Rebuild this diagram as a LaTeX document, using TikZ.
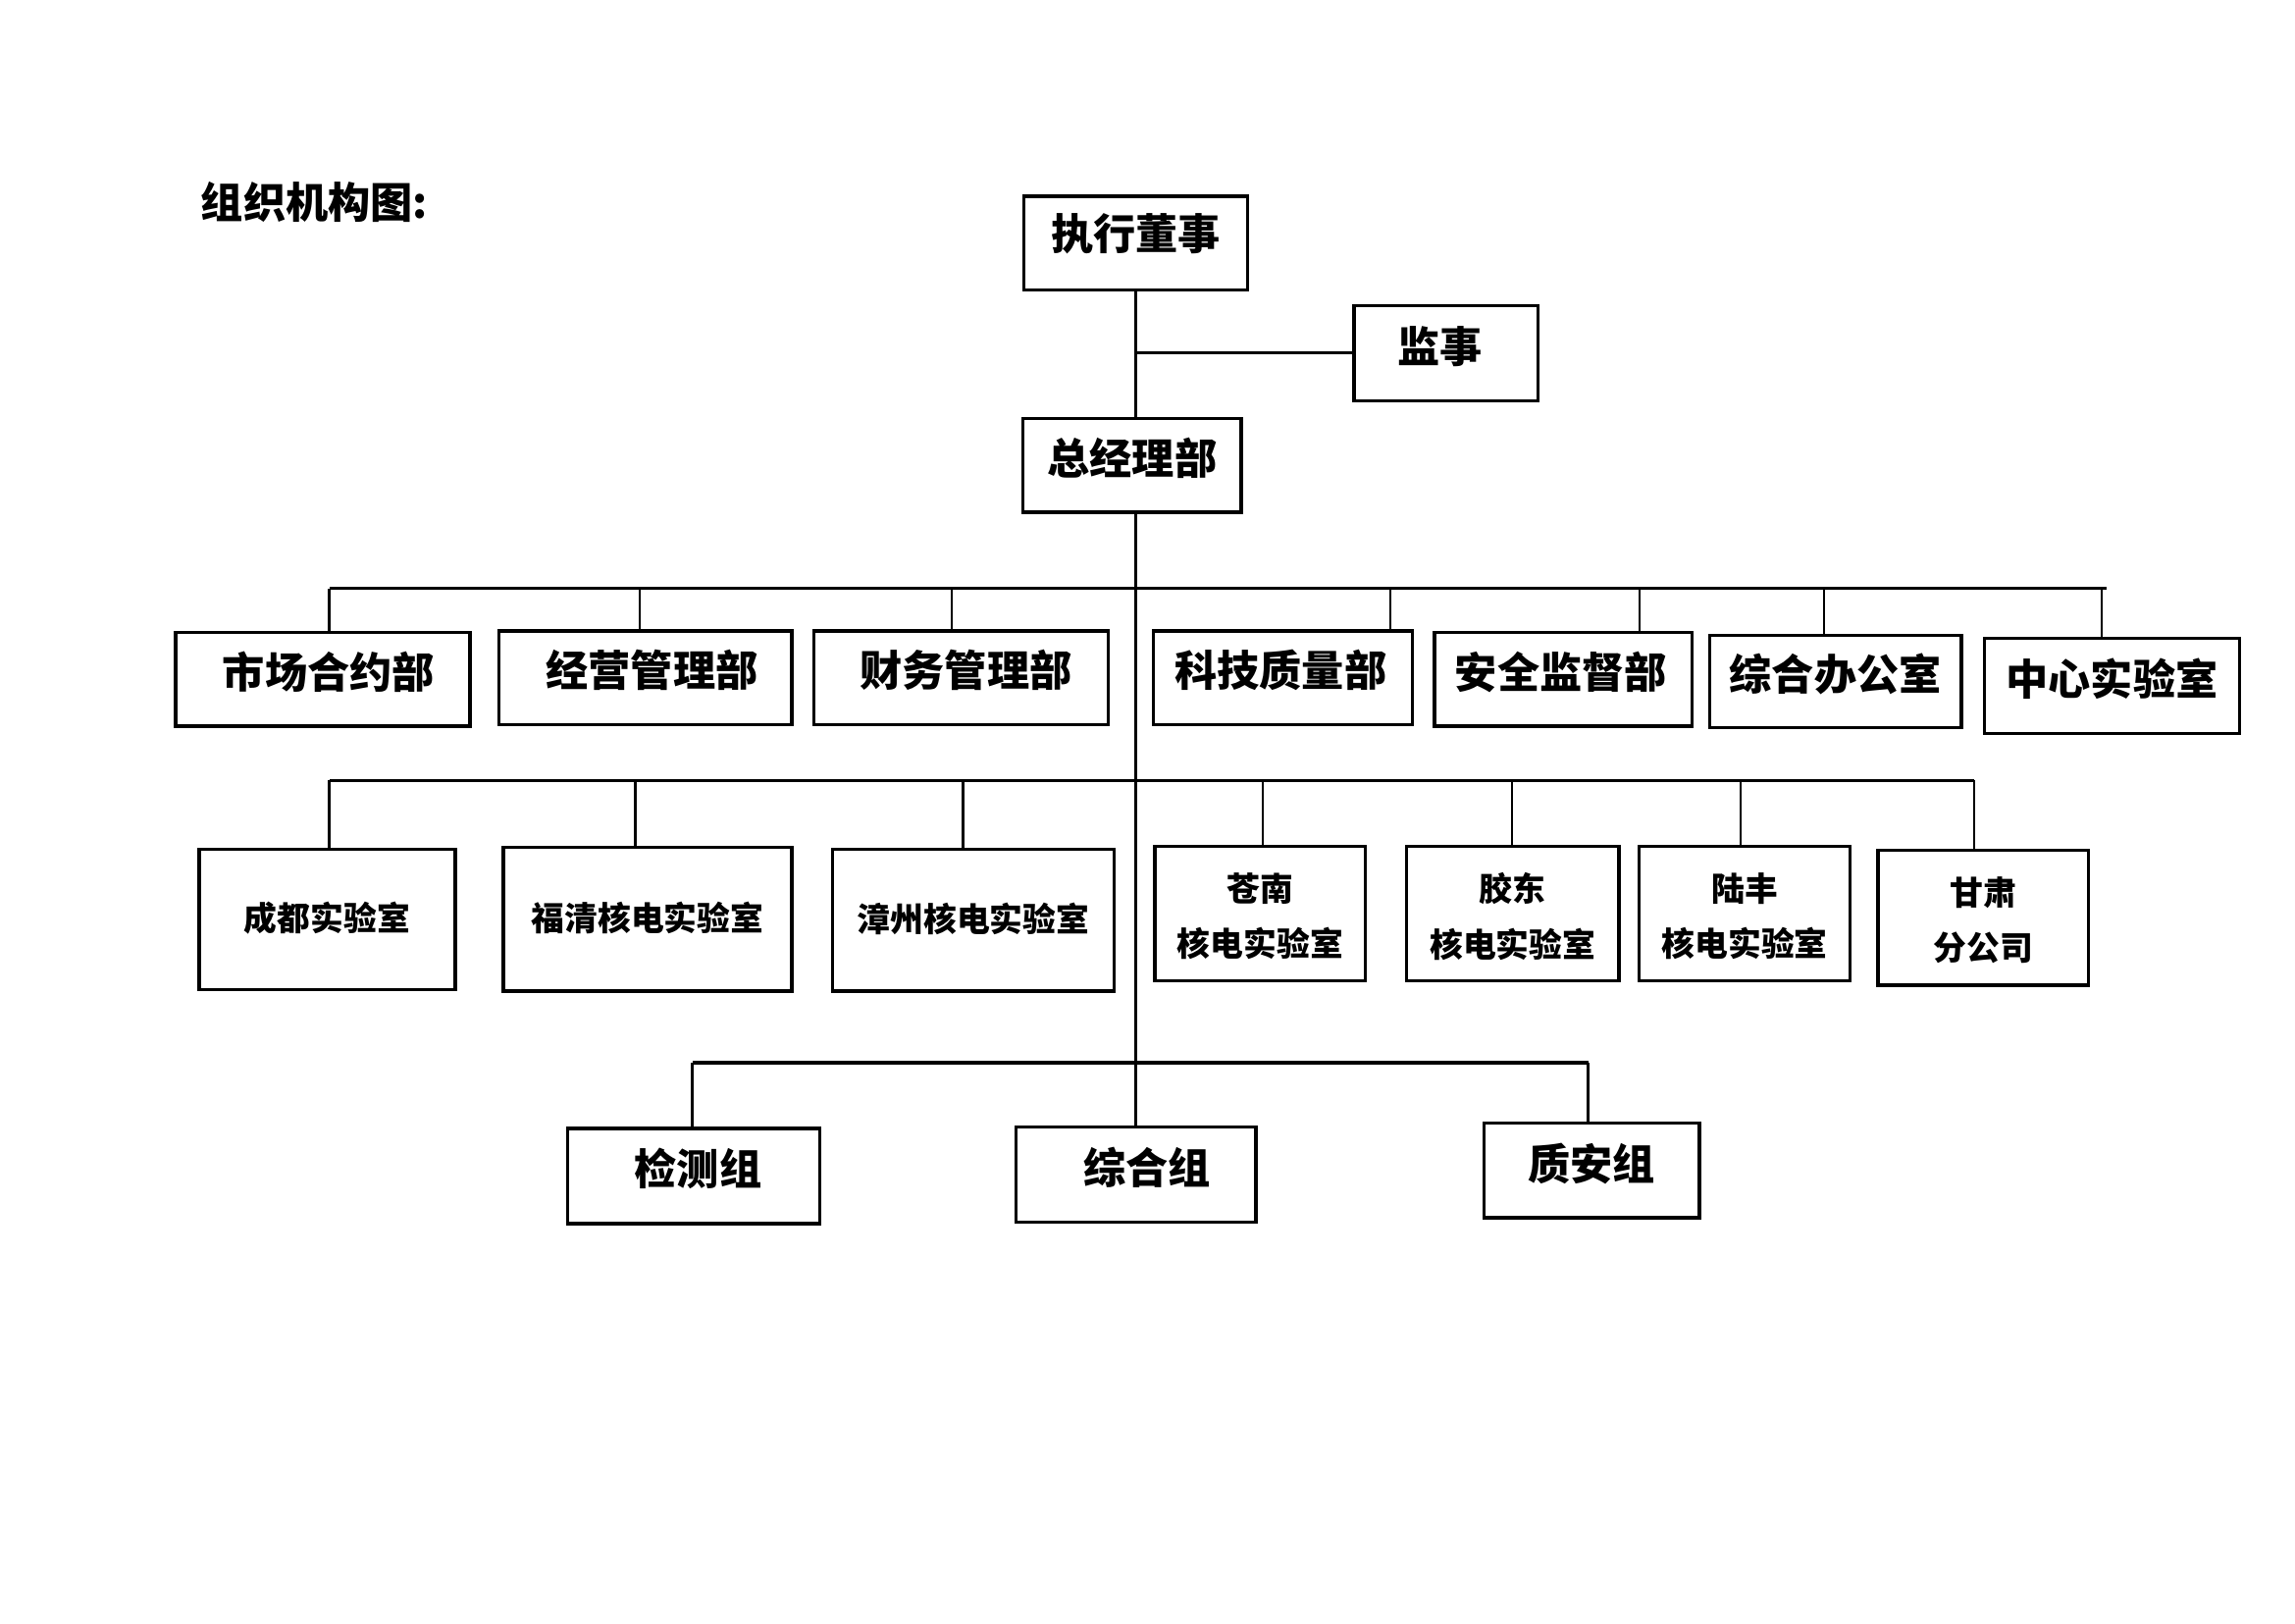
\documentclass[tikz,border=0pt]{standalone}
\usepackage{fontspec}
\newfontfamily\cjk{Noto Sans CJK SC}
\def\ux{0.189413mm}
\tikzset{
  orgbox/.style={draw, line width=1.2pt, inner sep=0pt, outer sep=0pt},
  tbig/.style={font={\cjk\bfseries\fontsize{15.6}{18}\selectfont}, inner sep=0pt},
  tsmall/.style={font={\cjk\bfseries\fontsize{12.2}{20.4}\selectfont}, inner sep=0pt, align=center},
  bus/.style={line width=1.1pt},
  drop/.style={line width=0.8pt},
}
\begin{document}
\begin{tikzpicture}[x=0.189413mm, y=-0.189413mm]
\useasboundingbox (0,0) rectangle (1568,1109);

% title
\node[tbig, anchor=west] (title) at (137,138) {组织机构图:};

% top
\node[orgbox, minimum width=153*\ux, minimum height=64*\ux,
  label={[tbig, yshift=6*\ux]center:执行董事}] (exec) at (776,166) {};
\node[orgbox, minimum width=126*\ux, minimum height=65*\ux,
  label={[tbig, xshift=-4*\ux, yshift=4.5*\ux]center:监事}] (jianshi) at (988,241.5) {};
\node[orgbox, minimum width=149*\ux, minimum height=64*\ux,
  label={[tbig, yshift=5*\ux]center:总经理部}] (zjl) at (773.5,318) {};

% level 1
\node[orgbox, minimum width=201*\ux, minimum height=64*\ux,
  label={[tbig, xshift=4*\ux, yshift=5*\ux]center:市场合约部}] (a1) at (220.5,464) {};
\node[orgbox, minimum width=200*\ux, minimum height=64*\ux,
  label={[tbig, xshift=4.5*\ux, yshift=5*\ux]center:经营管理部}] (a2) at (441,463) {};
\node[orgbox, minimum width=201*\ux, minimum height=64*\ux,
  label={[tbig, xshift=3.5*\ux, yshift=5*\ux]center:财务管理部}] (a3) at (656.5,463) {};
\node[orgbox, minimum width=177*\ux, minimum height=64*\ux,
  label={[tbig, xshift=-1.5*\ux, yshift=5*\ux]center:科技质量部}] (a4) at (876.5,463) {};
\node[orgbox, minimum width=176*\ux, minimum height=64*\ux,
  label={[tbig, xshift=-1.5*\ux, yshift=5*\ux]center:安全监督部}] (a5) at (1068,464) {};
\node[orgbox, minimum width=172*\ux, minimum height=63*\ux,
  label={[tbig, yshift=5*\ux]center:综合办公室}] (a6) at (1254,465.5) {};
\node[orgbox, minimum width=174*\ux, minimum height=65*\ux,
  label={[tbig, yshift=5*\ux]center:中心实验室}] (a7) at (1443,468.5) {};

% level 2
\node[orgbox, minimum width=175*\ux, minimum height=96*\ux,
  label={[tsmall, yshift=1*\ux]center:成都实验室}] (b1) at (223.5,628) {};
\node[orgbox, minimum width=197*\ux, minimum height=98*\ux,
  label={[tsmall, yshift=1*\ux]center:福清核电实验室}] (b2) at (442.5,628) {};
\node[orgbox, minimum width=192*\ux, minimum height=97*\ux,
  label={[tsmall, yshift=1*\ux]center:漳州核电实验室}] (b3) at (665,628.5) {};
\node[orgbox, minimum width=144*\ux, minimum height=92*\ux,
  label={[tsmall, yshift=-2*\ux]center:{苍南\\核电实验室}}] (b4) at (861,624) {};
\node[orgbox, minimum width=145*\ux, minimum height=92*\ux,
  label={[tsmall, yshift=-2*\ux]center:{胶东\\核电实验室}}] (b5) at (1033.5,624) {};
\node[orgbox, minimum width=144*\ux, minimum height=92*\ux,
  label={[tsmall, yshift=-2*\ux]center:{陆丰\\核电实验室}}] (b6) at (1192,624) {};
\node[orgbox, minimum width=144*\ux, minimum height=92*\ux,
  label={[tsmall, yshift=-1.5*\ux]center:{甘肃\\分公司}}] (b7) at (1355,627) {};

% level 3
\node[orgbox, minimum width=172*\ux, minimum height=65*\ux,
  label={[tbig, xshift=3*\ux, yshift=5*\ux]center:检测组}] (c1) at (474,803.5) {};
\node[orgbox, minimum width=164*\ux, minimum height=65*\ux,
  label={[tbig, xshift=7.5*\ux, yshift=5*\ux]center:综合组}] (c2) at (776,802.5) {};
\node[orgbox, minimum width=147*\ux, minimum height=65*\ux,
  label={[tbig, yshift=4.5*\ux]center:质安组}] (c3) at (1087.5,799.5) {};

% trunk
\coordinate (jn) at (776,241);
\draw[drop] (exec.south) -- (exec.south |- zjl.north);
\draw[bus] (jn) -- (jn -| jianshi.west);
\draw[drop] (exec.south |- zjl.south) -- (c2.north);

% bus 1
\coordinate (p1l) at (225,402);
\coordinate (p1r) at (1439,402);
\draw[bus] (p1l) -- (p1r);
\coordinate (d1) at (225,402);
\coordinate (d2) at (437,402);
\coordinate (d3) at (650,402);
\coordinate (d4) at (950,402);
\coordinate (d5) at (1120,402);
\coordinate (d6) at (1246,402);
\coordinate (d7) at (1436,402);
\draw[drop, line width=1.1pt] (d1) -- (d1 |- a1.north);
\draw[drop] (d2) -- (d2 |- a2.north);
\draw[drop] (d3) -- (d3 |- a3.north);
\draw[drop] (d4) -- (d4 |- a4.north);
\draw[drop] (d5) -- (d5 |- a5.north);
\draw[drop] (d6) -- (d6 |- a6.north);
\draw[drop] (d7) -- (d7 |- a7.north);

% bus 2
\coordinate (p2l) at (225,533);
\coordinate (p2r) at (1349,533);
\draw[bus] (p2l) -- (p2r);
\coordinate (e1) at (225,533);
\coordinate (e2) at (434,533);
\coordinate (e3) at (658,533);
\coordinate (e4) at (863,533);
\coordinate (e5) at (1033,533);
\coordinate (e6) at (1189,533);
\coordinate (e7) at (1349,533);
\draw[drop, line width=1.1pt] (e1) -- (e1 |- b1.north);
\draw[drop] (e2) -- (e2 |- b2.north);
\draw[drop] (e3) -- (e3 |- b3.north);
\draw[drop] (e4) -- (e4 |- b4.north);
\draw[drop] (e5) -- (e5 |- b5.north);
\draw[drop] (e6) -- (e6 |- b6.north);
\draw[drop] (e7) -- (e7 |- b7.north);

% bus 3
\coordinate (p3l) at (473,726);
\coordinate (p3r) at (1085,726);
\draw[bus] (p3l) -- (p3r);
\draw[drop, line width=1.1pt] (p3l) -- (p3l |- c1.north);
\draw[drop] (p3r) -- (p3r |- c3.north);
\end{tikzpicture}
\end{document}
